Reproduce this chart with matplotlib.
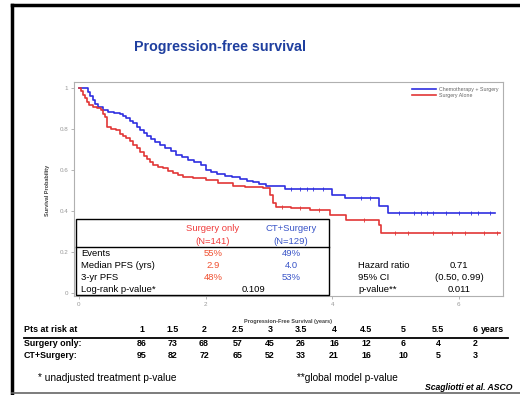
import matplotlib
matplotlib.use("Agg")
import matplotlib.pyplot as plt
from matplotlib.patches import Rectangle
from matplotlib.lines import Line2D

plt.rcParams['font.family'] = ['Liberation Sans', 'DejaVu Sans']

W, H = 520, 395

# ---------------- data ----------------
ct_t = [0, 0.15, 0.18, 0.22, 0.26, 0.30, 0.38, 0.46, 0.55, 0.64, 0.70, 0.75, 0.80, 0.86, 0.91,
        0.96, 1.02, 1.08, 1.14, 1.20, 1.28, 1.36, 1.45, 1.53, 1.62, 1.72, 1.82, 1.92, 2.00,
        2.08, 2.18, 2.30, 2.42, 2.55, 2.65, 2.75, 2.85, 2.95, 3.25, 4.00, 4.20, 4.74, 4.88, 6.57]
ct_s = [1.0, 0.98, 0.96, 0.94, 0.92, 0.905, 0.89, 0.885, 0.88, 0.875, 0.865, 0.852, 0.84, 0.828,
        0.81, 0.795, 0.78, 0.765, 0.75, 0.735, 0.72, 0.705, 0.69, 0.675, 0.665, 0.65, 0.64, 0.625,
        0.60, 0.59, 0.578, 0.57, 0.565, 0.555, 0.545, 0.54, 0.53, 0.52, 0.505, 0.478, 0.462, 0.424,
        0.389, 0.389]
ct_cens = [3.35, 3.5, 3.6, 3.7, 3.85, 4.45, 4.6, 5.05, 5.3, 5.4, 5.5, 5.6, 5.8, 6.0, 6.2, 6.3, 6.5]

so_t = [0, 0.03, 0.06, 0.09, 0.12, 0.16, 0.22, 0.28, 0.34, 0.38, 0.41, 0.44, 0.50, 0.58, 0.64,
        0.70, 0.75, 0.80, 0.86, 0.91, 0.96, 1.02, 1.07, 1.12, 1.17, 1.25, 1.33, 1.41, 1.49, 1.57,
        1.65, 1.80, 2.00, 2.20, 2.44, 2.62, 2.90, 3.02, 3.07, 3.12, 3.35, 3.65, 3.97, 4.22, 4.74,
        4.78, 6.65]
so_s = [1.0, 0.985, 0.966, 0.95, 0.933, 0.917, 0.908, 0.9, 0.893, 0.875, 0.86, 0.81, 0.80, 0.795,
        0.775, 0.765, 0.754, 0.74, 0.722, 0.705, 0.689, 0.67, 0.655, 0.64, 0.624, 0.615, 0.608,
        0.595, 0.584, 0.575, 0.567, 0.559, 0.551, 0.535, 0.522, 0.516, 0.51, 0.478, 0.44, 0.42,
        0.413, 0.405, 0.38, 0.356, 0.332, 0.291, 0.291]
so_cens = [3.2, 3.5, 3.8, 4.5, 5.0, 5.2, 5.6, 5.9, 6.1, 6.4, 6.6]

series_names = ["Chemotherapy + Surgery", "Surgery Alone"]
x_ticks = [0, 2, 4, 6]
y_ticks = [0, 0.2, 0.4, 0.6, 0.8, 1.0]
y_tick_labels = ["0", "0.2", "0.4", "0.6", "0.8", "1"]

risk_times = ["1", "1.5", "2", "2.5", "3", "3.5", "4", "4.5", "5", "5.5", "6"]
risk_surgery = ["86", "73", "68", "57", "45", "26", "16", "12", "6", "4", "2"]
risk_ct = ["95", "82", "72", "65", "52", "33", "21", "16", "10", "5", "3"]

row_labels = ["Events", "Median PFS (yrs)", "3-yr PFS"]
surgery_vals = ["55%", "2.9", "48%"]
ct_vals = ["49%", "4.0", "53%"]
logrank_p = "0.109"
hr_labels = ["Hazard ratio", "95% CI", "p-value**"]
hr_vals = ["0.71", "(0.50, 0.99)", "0.011"]

BLUE = "#2f2fe0"
RED = "#e23636"
TBLUE = "#3a55c8"
TRED = "#f03c3c"

fig = plt.figure(figsize=(W / 100, H / 100), dpi=100)


def fx(x):
    return x / W


def fy(y):
    return 1 - y / H


def T(x, y, s, **kw):
    fig.text(fx(x), fy(y), s, **kw)


# slide frame
fig.add_artist(Line2D([fx(12), fx(12)], [fy(5), fy(393)], color="black", lw=2.5))
fig.add_artist(Line2D([fx(12), fx(525)], [fy(5), fy(5)], color="black", lw=2.5))
fig.add_artist(Line2D([fx(12), fx(525)], [fy(393), fy(393)], color="#666666", lw=1.2))

# title
T(220, 47, "Progression-free survival", ha="center", va="center", fontsize=10.3,
  fontweight="bold", color="#1f3f9f")

# axes
ax = fig.add_axes([fx(74), fy(296), (503 - 74) / W, (296 - 82) / H])
ax.step(ct_t, ct_s, where="post", color=BLUE, lw=1.2, label=series_names[0])
ax.step(so_t, so_s, where="post", color=RED, lw=1.2, label=series_names[1])


def surv_at(ts, ss, t):
    v = ss[0]
    for ti, si in zip(ts, ss):
        if ti <= t:
            v = si
    return v


ax.plot(ct_cens, [surv_at(ct_t, ct_s, t) for t in ct_cens], ls="none", marker="|",
        color=BLUE, ms=2.5, mew=0.6)
ax.plot(so_cens, [surv_at(so_t, so_s, t) for t in so_cens], ls="none", marker="|",
        color=RED, ms=2.5, mew=0.6)

ax.set_xlim(-0.079, 6.70)
ax.set_ylim(-0.015, 1.029)
ax.set_xticks(x_ticks)
ax.set_xticklabels([str(v) for v in x_ticks])
ax.set_yticks(y_ticks)
ax.set_yticklabels(y_tick_labels)
ax.tick_params(labelsize=4.5, colors="#999999", length=2, width=0.5, pad=2)
for sp in ax.spines.values():
    sp.set_color("#b0b0b0")
    sp.set_linewidth(0.8)
leg = ax.legend(loc="upper right", fontsize=3.8, frameon=False, handlelength=4.5,
                handletextpad=0.6, borderaxespad=0.5, labelspacing=0.3)
for t in leg.get_texts():
    t.set_color("#666666")

T(47, 190, "Survival Probability", rotation=90, ha="center", va="center", fontsize=4,
  fontweight="bold", color="#444444")
T(288, 322, "Progression-Free Survival (years)", ha="center", va="center", fontsize=4,
  fontweight="bold", color="#444444")

# inset table box
FS = 6.8
fig.add_artist(Rectangle((fx(76), fy(295)), (329 - 76) / W, (295 - 219) / H,
                         facecolor="white", edgecolor="black", lw=1.0, zorder=5))
fig.add_artist(Line2D([fx(76), fx(329)], [fy(247), fy(247)], color="black", lw=1.0, zorder=6))
T(213, 228.5, "Surgery only", ha="center", va="center", fontsize=FS, color=TRED, zorder=7)
T(213, 241, "(N=141)", ha="center", va="center", fontsize=FS, color=TRED, zorder=7)
T(291, 228.5, "CT+Surgery", ha="center", va="center", fontsize=FS, color=TBLUE, zorder=7)
T(291, 241, "(N=129)", ha="center", va="center", fontsize=FS, color=TBLUE, zorder=7)
row_y = [254, 266, 278]
for yy, lab, sv, cv in zip(row_y, row_labels, surgery_vals, ct_vals):
    T(81, yy, lab, ha="left", va="center", fontsize=FS, color="black", zorder=7)
    T(213, yy, sv, ha="center", va="center", fontsize=FS, color="#f05030", zorder=7)
    T(291, yy, cv, ha="center", va="center", fontsize=FS, color=TBLUE, zorder=7)
T(81, 290, "Log-rank p-value*", ha="left", va="center", fontsize=FS, color="black", zorder=7)
T(253, 290, logrank_p, ha="center", va="center", fontsize=FS, color="black", zorder=7)

for yy, lab, v in zip([266, 278, 290], hr_labels, hr_vals):
    T(358, yy, lab, ha="left", va="center", fontsize=FS, color="black", zorder=7)
    T(459, yy, v, ha="center", va="center", fontsize=FS, color="black", zorder=7)

# risk table
risk_x = [142, 173, 204, 238, 270, 301, 334, 366, 403, 438, 475]
hdr_y, s_y, c_y = 330, 344, 356
T(24, hdr_y, "Pts at risk at", ha="left", va="center", fontsize=6.4, fontweight="bold")
for xx, lab in zip(risk_x, risk_times):
    T(xx, hdr_y, lab, ha="center", va="center", fontsize=6.4, fontweight="bold")
T(risk_x[-1] + 6, hdr_y, "years", ha="left", va="center", fontsize=6.4, fontweight="bold")
fig.add_artist(Line2D([fx(24), fx(508)], [fy(337.5), fy(337.5)], color="black", lw=1.3))
T(24, s_y, "Surgery only:", ha="left", va="center", fontsize=6.4, fontweight="bold")
T(24, c_y, "CT+Surgery:", ha="left", va="center", fontsize=6.4, fontweight="bold")
for xx, a, b in zip(risk_x, risk_surgery, risk_ct):
    T(xx, s_y, a, ha="center", va="center", fontsize=6.4, fontweight="bold")
    T(xx, c_y, b, ha="center", va="center", fontsize=6.4, fontweight="bold")

T(38, 378, "* unadjusted treatment p-value", ha="left", va="center", fontsize=7.3)
T(297, 378, "**global model p-value", ha="left", va="center", fontsize=7.3)
T(425, 387, "Scagliotti et al. ASCO", ha="left", va="center", fontsize=6.2,
  fontweight="bold", style="italic")

fig.savefig("out.png", dpi=100)
